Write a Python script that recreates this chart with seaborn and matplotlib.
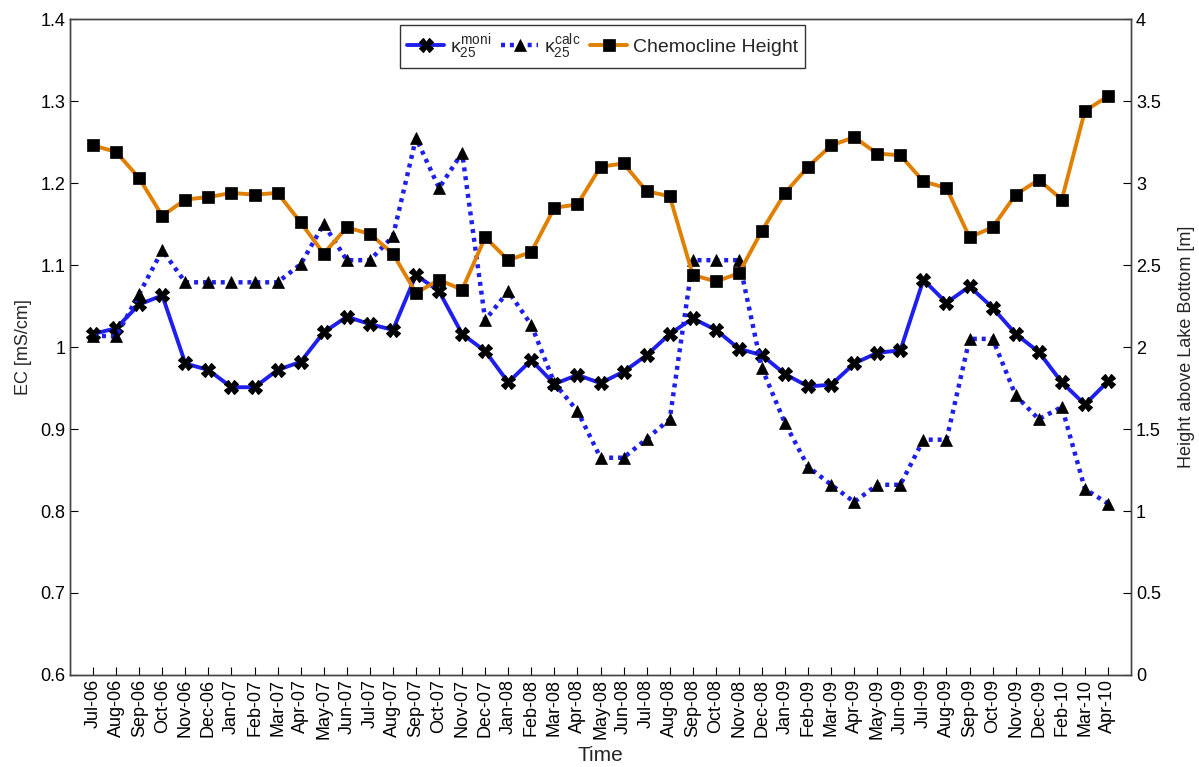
import numpy as np
import pandas as pd
import matplotlib
matplotlib.use("Agg")
import matplotlib.pyplot as plt
import seaborn as sns

months = ["Jul-06", "Aug-06", "Sep-06", "Oct-06", "Nov-06", "Dec-06",
          "Jan-07", "Feb-07", "Mar-07", "Apr-07", "May-07", "Jun-07",
          "Jul-07", "Aug-07", "Sep-07", "Oct-07", "Nov-07", "Dec-07",
          "Jan-08", "Feb-08", "Mar-08", "Apr-08", "May-08", "Jun-08",
          "Jul-08", "Aug-08", "Sep-08", "Oct-08", "Nov-08", "Dec-08",
          "Jan-09", "Feb-09", "Mar-09", "Apr-09", "May-09", "Jun-09",
          "Jul-09", "Aug-09", "Sep-09", "Oct-09", "Nov-09", "Dec-09",
          "Feb-10", "Mar-10", "Apr-10"]

ec_moni = [1.016, 1.023, 1.052, 1.063, 0.980, 0.972,
           0.951, 0.951, 0.972, 0.982, 1.018, 1.037,
           1.028, 1.021, 1.088, 1.068, 1.016, 0.995,
           0.957, 0.984, 0.955, 0.966, 0.956, 0.970,
           0.990, 1.016, 1.035, 1.021, 0.998, 0.990,
           0.967, 0.952, 0.954, 0.980, 0.993, 0.996,
           1.082, 1.054, 1.074, 1.048, 1.016, 0.994,
           0.957, 0.930, 0.958]

ec_calc = [1.014, 1.013, 1.065, 1.118, 1.079, 1.079,
           1.079, 1.079, 1.079, 1.101, 1.150, 1.106,
           1.106, 1.135, 1.255, 1.194, 1.237, 1.033,
           1.068, 1.027, 0.956, 0.922, 0.865, 0.865,
           0.888, 0.912, 1.106, 1.106, 1.106, 0.974,
           0.907, 0.854, 0.832, 0.811, 0.832, 0.832,
           0.887, 0.887, 1.010, 1.010, 0.941, 0.912,
           0.927, 0.827, 0.809]

chemocline = [3.23, 3.19, 3.03, 2.80, 2.90, 2.915,
              2.94, 2.93, 2.94, 2.76, 2.57, 2.73,
              2.69, 2.57, 2.33, 2.41, 2.35, 2.67,
              2.53, 2.58, 2.85, 2.87, 3.10, 3.12,
              2.95, 2.92, 2.44, 2.40, 2.45, 2.71,
              2.94, 3.10, 3.23, 3.28, 3.18, 3.17,
              3.01, 2.97, 2.67, 2.73, 2.93, 3.02,
              2.90, 3.44, 3.53]

sns.set_style("ticks")
plt.rcParams["font.family"] = ["Liberation Sans", "DejaVu Sans"]
plt.rcParams["mathtext.fontset"] = "custom"
plt.rcParams["mathtext.rm"] = "Liberation Sans"
plt.rcParams["mathtext.it"] = "Liberation Sans"
plt.rcParams["mathtext.sf"] = "Liberation Sans"

df = pd.DataFrame({
    "pos": np.arange(1, len(months) + 1),
    "moni": ec_moni,
    "calc": ec_calc,
    "chemo": chemocline,
})

blue = "#1e1eee"
orange = "#e08000"

fig = plt.figure(figsize=(11.99, 7.67), dpi=100)
ax = fig.add_axes([0.0584, 0.12, 0.8849, 0.855])
ax2 = ax.twinx()

sns.lineplot(data=df, x="pos", y="moni", ax=ax, color=blue, linewidth=2.8,
             marker="X", markersize=10, markerfacecolor="black",
             markeredgecolor="black", markeredgewidth=0.8,
             label=r"$\kappa_{25}^{moni}$")
sns.lineplot(data=df, x="pos", y="calc", ax=ax, color=blue, linewidth=3.2,
             marker="^", markersize=9, markerfacecolor="black",
             markeredgecolor="black", markeredgewidth=0.5,
             label=r"$\kappa_{25}^{calc}$")
ax.lines[-1].set_dashes((0.9, 1.1))
sns.lineplot(data=df, x="pos", y="chemo", ax=ax2, color=orange, linewidth=2.8,
             marker="s", markersize=8.5, markerfacecolor="black",
             markeredgecolor="black", markeredgewidth=0.5,
             label="Chemocline Height")

ax.set_xlim(0, len(months) + 1)
ax.set_ylim(0.6, 1.4)
ax2.set_ylim(0, 4)
ax.set_xticks(df["pos"])
ax.set_xticklabels(months, rotation=90, fontsize=13)
ax.set_yticks(np.arange(0.6, 1.41, 0.1))
ax.set_yticklabels(["0.6", "0.7", "0.8", "0.9", "1", "1.1", "1.2", "1.3", "1.4"], fontsize=13)
ax2.set_yticks(np.arange(0, 4.01, 0.5))
ax2.set_yticklabels(["0", "0.5", "1", "1.5", "2", "2.5", "3", "3.5", "4"], fontsize=13)

ax.tick_params(axis="both", direction="in", length=6, width=0.8, colors="black")
ax.tick_params(axis="x", pad=3)
ax2.tick_params(axis="y", direction="in", length=6, width=0.8, colors="black")

ax.set_xlabel("Time", fontsize=15, va="center")
ax.xaxis.set_label_coords(0.5, -0.1225)
ax.set_ylabel("EC [mS/cm]", fontsize=13, labelpad=6)
ax2.set_ylabel("Height above Lake Bottom [m]", fontsize=13, labelpad=12)

for a in (ax, ax2):
    for s in a.spines.values():
        s.set_color("#444444")
        s.set_linewidth(1.0)

h1, l1 = ax.get_legend_handles_labels()
h2, l2 = ax2.get_legend_handles_labels()
ax.get_legend().remove()
ax2.get_legend().remove()
leg = ax2.legend(h1 + h2, l1 + l2, loc="upper center", bbox_to_anchor=(0.502, 0.991),
                 ncol=3, fontsize=14, frameon=True, fancybox=False,
                 handlelength=1.9, handletextpad=0.3, columnspacing=0.5,
                 borderpad=0.35, borderaxespad=0.0)
leg.get_frame().set_edgecolor("black")
leg.get_frame().set_linewidth(1.0)

fig.savefig("out.png", dpi=100, facecolor="white")
